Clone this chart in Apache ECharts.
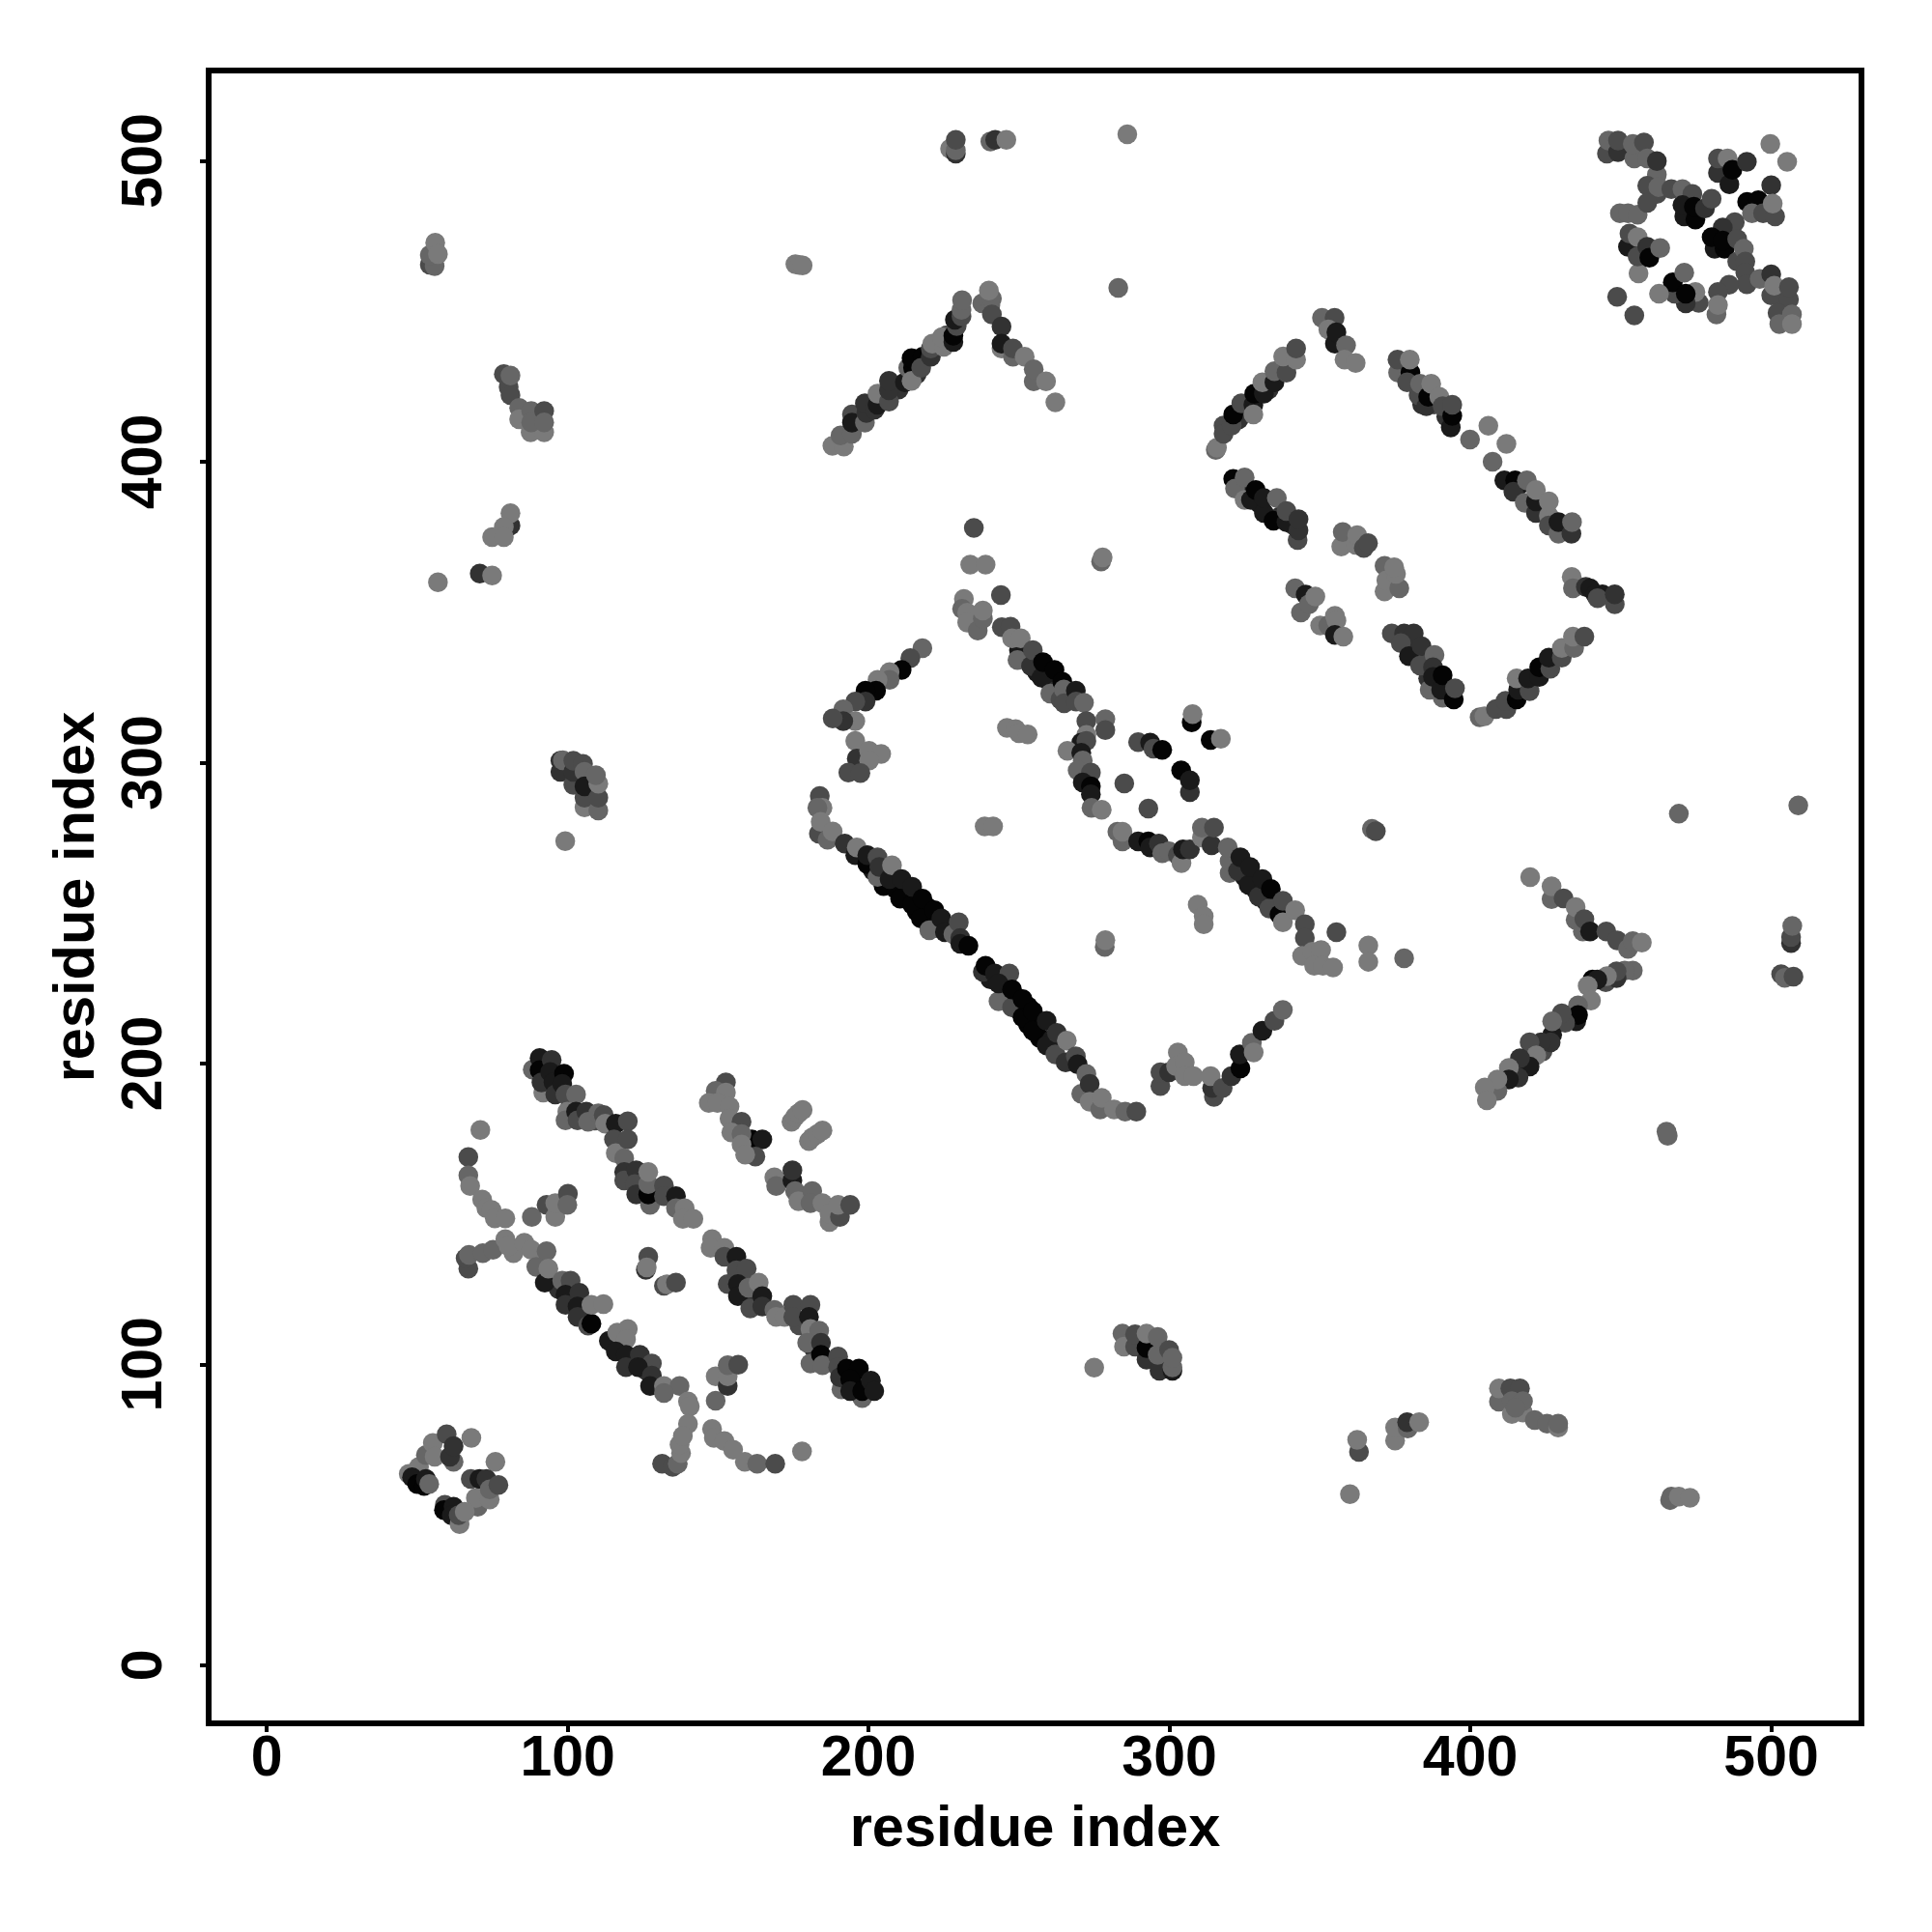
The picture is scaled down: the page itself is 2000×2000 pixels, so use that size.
<!DOCTYPE html>
<html>
<head>
<meta charset="utf-8">
<script src="https://cdn.jsdelivr.net/npm/echarts@6/dist/echarts.min.js"></script>
<style>html,body{margin:0;padding:0;background:#fff}#c{width:2000px;height:2000px}</style>
</head>
<body>
<div id="c"></div>
<script>
// [residue x, residue y, contact level 1 (weak) .. 6 (strong)]
const strandUpper = [[88.4,198,2],[90.7,201.8,5],[90.7,197.8,6],[91.9,190.3,1],[91.3,193.7,4],[94.7,201.2,4],[94.2,197.2,5],[95.3,193.7,5],[95.9,189.7,4],[98.8,196.6,6],[98.2,193.2,5],[99.3,189.7,3],[102.8,189.7,2],[99.9,184,1],[99.3,181.1,2],[102.8,184,5],[103.3,181.1,3],[106.2,184,4],[106.8,180.6,2],[110.2,183.4,2],[112,182.9,3],[112.5,180,1],[116,180,5],[120,180.8,3],[115.4,174.8,3],[116,170.2,1],[120,174.8,3],[118.8,168.5,2],[118.8,163.9,4],[118.8,161.1,3],[122.8,164.5,4],[122.3,159.9,3],[122.8,156.5,4],[127.4,153,2],[126.8,156.5,6],[126.8,159.9,2],[126.8,163.9,1],[132,159.4,3],[132,155.9,3],[136,155.9,5],[136,151.9,2],[138.9,151.9,1],[138.3,148.4,1],[141.8,148.4,1],[148,141.6,1],[147.5,138.7,1],[152.1,138.7,1],[152.1,135.8,3],[156.1,135.8,5],[156.1,131.3,3],[159.5,131.8,3],[153.2,126.7,3],[156.6,126.7,5],[156.6,122.7,5],[160.1,125.5,2],[163.5,127.2,1],[160.7,118.6,3],[164.7,122.7,5],[164.7,119.2,4],[168.7,118.1,2],[169.3,115.8,1],[172.1,115.8,1],[175,119.8,3],[175,115.8,3],[180.7,119.8,3],[180.2,115.8,5],[180.7,111.8,1],[183.6,111.2,2],[179.6,107.2,2],[184.2,107.2,4],[180.7,100.3,2],[184.2,103.2,6],[184.7,99.7,2],[189.9,102.6,3],[189.9,99.1,3],[191,91.7,2],[190.5,95.7,4],[192.8,98.6,6],[196.8,98.6,6],[197.9,88.8,2],[193.9,95.1,6],[193.9,91.1,5],[197.9,91.1,6],[200.8,94.6,5],[201.9,91.1,5]];
const strandShort = [[152.6,193.7,3],[149.2,190.9,2],[152.6,190.3,1],[146.9,186.9,1],[149.8,186.9,1],[153.8,185.7,1],[153.8,181.7,1],[157.8,180.6,3],[154.4,177.1,1],[161.2,174.8,6],[157.8,176.5,2],[164.7,174.8,5],[157.8,173.1,1],[162.4,169.1,3],[159,169.7,1],[174.4,180.6,1],[175.6,182.3,1],[176.7,183.4,1],[178.1,184.6,1],[180.2,174.2,1],[181.3,175.4,1],[183,176.5,1],[184.7,177.7,1],[168.7,162.2,1],[169.3,159.3,2],[174.7,161.1,5],[174.7,164.5,4],[175.6,157.6,2],[176.7,154.2,1],[181.3,157.6,2],[180.7,153.6,2],[184.7,153.6,1],[187,147.3,1],[187,150.2,1],[190.5,149,3],[189.9,153,1],[193.9,153,3]];
const arcLeft = [[71,177.9,1],[67,168.9,3],[67,162.8,2],[67.6,159.3,1],[71.6,154.8,1],[73,151.9,1],[74.7,151.3,1],[75.8,148.5,1],[79.3,148.5,1]];
const strandLower = [[67,131.8,3],[66.1,135.3,3],[67.2,136.4,2],[71.8,137,2],[75.2,138.1,2],[79.3,141.6,1],[80.4,139.3,1],[85.6,140.4,1],[87.9,138.1,1],[93,137.6,2],[89.6,132.4,2],[92.4,127.2,5],[93.6,131.8,1],[98.2,127.8,2],[101,127.8,3],[99.3,123.2,5],[103.9,123.8,4],[99.3,119.8,4],[103.3,119.2,5],[103.3,115.8,4],[106.8,112.9,3],[107.9,113.5,6],[107.9,119.8,1],[111.9,120,1],[113.7,107.8,5],[116.5,110.6,1],[120,111.8,1],[119.4,108.3,1],[116,104.3,5],[119.4,103.2,5],[124,103.2,4],[128,100.3,3],[119.4,99.1,4],[123.4,99.1,5],[128,96.3,4],[127.4,92.8,5],[132,92.8,1],[137.2,92.8,2],[132,90.5,2],[140,87.7,1],[140.6,86,1],[140,80.2,1],[131.4,67,3],[134.9,65.9,3],[136.6,67,2],[137.7,70.5,1],[137.2,73.3,1],[138.3,76.2,1]];
const arcCross = [[148,78.5,1],[148.6,75.6,1],[152.1,74.5,1],[155,71.6,1],[158.9,67.6,1],[163,67,2],[169,67,3],[177.9,71.1,1]];
const patchesMid = [[88.1,149,2],[93,153,3],[95.9,149,1],[95.9,153.6,1],[100.1,156.7,3],[99.9,153,2],[126.8,135.8,3],[126,131.4,4],[126.3,132.2,1],[132,126.1,3],[133,126.6,1],[136,127.2,3],[149.2,87.9,2],[149.2,96,1],[153.2,92.8,4],[153.2,96,1],[153.2,99.7,2],[156.7,99.9,3]];
const cornerBottomLeft = [[47.2,63.6,1],[50.6,65.9,1],[48.3,62.5,5],[50,60.2,6],[52.3,59.6,6],[52.9,61.9,5],[54,60.2,2],[52.9,69.9,2],[55.2,73.9,1],[55.8,69.3,1],[59.8,76.8,3],[62.1,67.6,2],[60.9,69.3,4],[62.1,72.8,4],[68,75.6,1],[76,67.6,1],[67.8,61.9,3],[70.7,61.9,5],[73,61.9,4],[70.1,52.7,2],[69.5,55.6,1],[74.1,55.1,1],[74.1,58.5,2],[77,59.9,3],[59.2,53.3,3],[58.9,51.6,6],[62.1,52.7,5],[61.5,49.8,5],[64.1,46.9,1],[63.8,49.9,3],[65.8,51,1]];
const rectTopLeft = [[217.9,338,2],[213.9,334.7,3],[211,330.8,6],[207,330.1,1],[207,327.5,2],[203,327.5,1],[202.5,323.9,6],[199,323.9,6],[199,320.3,4],[195.6,320.3,3],[191.6,317.7,2],[195.6,313.8,1],[191.6,313.8,4],[188.1,314.7,3],[195.6,307.2,1],[196.1,301.3,4],[200.2,303.9,1],[204.2,302.9,1],[200.2,300.7,1],[193.3,296.7,3],[197.3,296.5,3]];
const rectBottomA = [[183.8,288.9,3],[184.7,285,1],[183,285,2],[183.5,276.4,3],[184.1,280.3,1],[186.4,274.4,2],[188.1,277.1,1],[192.1,273.1,4],[195.6,269.2,5],[196.1,271.8,1],[199.6,266.3,6],[199.6,269.2,5],[203,262,2],[203,268.5,3],[203.6,265.3,4],[207,261.3,5],[207.8,265.9,1],[210.5,254.8,6],[211,261.3,5],[214.5,252.8,6],[214.5,258.7,5],[217.4,248.2,6],[217.9,254.8,6],[220.2,244.3,2],[221.9,250.9,6],[224.2,248.2,5],[225.4,243.6,5],[228.2,243,2],[230,246.9,3],[230.5,241.7,4],[230.5,239.8,5],[233.2,239.1,6]];
const rectBottomB = [[238,230.5,4],[238.9,232.5,6],[243.2,220.7,2],[242,229.9,5],[246.8,229.9,3],[243.2,226.6,5],[247.7,218.7,3],[247.7,224.6,6],[251.2,215.4,6],[251.2,221.4,6],[254.6,210.9,6],[254.6,217.4,6],[259.2,206,5],[259.2,214.2,5],[262.6,210.2,4],[262.1,203,3],[265.9,207.6,1],[265.5,200.4,4],[268.9,202.4,3],[269.5,199.7,5],[272.4,196.5,2],[270.7,189.9,2],[273.5,193.2,4],[273.5,187.3,1],[277,184.7,2],[277.5,188.6,1],[281.6,184.7,1],[285.3,184,2],[289,184,3]];
const rectBottomRight = [[297,192.5,3],[297,197.1,3],[299.9,197.1,4],[302.8,203.7,1],[302.2,199.1,1],[305.1,200.4,1],[305.1,195.8,1],[308,195.8,1],[314.8,188.9,3],[314.2,191.9,4],[313.7,195.8,1],[317.7,191.9,3],[320.6,195.8,4],[323.6,198.4,6],[323.4,203,5],[327.4,206.9,2],[328,203.7,1],[330.9,210.9,5],[334.9,214.2,3],[337.7,217.8,2]];
const rectTopStrand = [[231.7,354.4,1],[231.1,351.1,2],[232.8,349.8,1],[232.8,346.5,1],[236.3,343.9,2],[238,347.8,2],[238,350.5,1],[244,355.7,3],[233.8,365.8,1],[238.9,365.8,1],[235,378,3],[277.3,366.8,2],[277.8,368.2,1],[244.3,345,3],[247.2,345.2,3],[250,337.4,5],[247.7,341.3,1],[250.6,341.3,1],[249.5,334.1,2],[254,332.1,4],[254.6,337.4,3],[257.5,328.2,5],[258,333.4,6],[260.4,322.9,2],[261.8,330.8,6],[263.8,321,3],[264.4,326.9,6],[264.9,324.3,2],[265,319.7,3],[268.9,323.9,5],[269,320.3,3],[271.6,319.9,2],[272.4,313.8,3],[278.7,314.4,2],[278.7,310.8,3],[272.4,309.2,1],[270.7,306.6,5],[272.4,307.2,3],[266.1,303.9,1],[270.7,303.3,5],[271.2,300.7,2],[269.5,297.4,2],[273.9,296.7,3],[271.2,293.4,5],[273.9,292.1,6],[273.9,289.5,5],[274.1,285,2],[277.5,284.3,1]];
const patchesInner = [[246,311.5,1],[248.9,311.1,1],[250,309.8,1],[252.9,309.4,1],[307.4,313.4,6],[307.7,316.1,1],[313.7,307.5,6],[317.1,307.9,1],[289.6,306.8,3],[293.6,306.6,5],[294.7,304.6,3],[297.6,304.2,6],[303.9,297.4,6],[306.8,290.2,4],[306.8,294.1,5],[285,293.1,3],[293,284.7,3],[238.6,278.8,1],[241.4,278.8,1],[278.5,238.7,2],[278.7,241,1],[309.4,252.8,1],[311.4,248.9,1],[311.4,246.3,1],[282.7,277,2],[284.4,273.8,2],[284.4,277,1]];
const strandMiddle = [[289.6,273.8,5],[293,273.8,6],[293.6,271.8,5],[296.5,273.1,4],[297.6,269.9,2],[299.9,270.5,2],[302.8,269.2,3],[304,266.6,1],[304.5,271.2,5],[306.8,271.2,4],[310.8,275.1,1],[314,272.5,4],[310.8,278.4,2],[314.8,278.4,3],[320,263.3,2],[320,267.2,2],[319.4,271.8,2],[322.8,264,4],[323.6,268.5,5],[326.3,259.4,5],[326.8,265.3,5],[329.7,255.4,4],[330.9,261.3,5],[333.2,251.5,3],[333.7,258,6],[336.6,249.5,6],[337.7,246.9,1],[337.7,254.1,3],[341.8,250.9,1],[345,246.3,3],[345,241.7,3],[355.5,243.6,3],[344.1,235.8,1],[347.5,237.1,1],[350.4,237.7,1],[348.1,232.5,1],[351,232.5,1],[354.4,231.9,1]];
const rectUpperLeft = [[315.4,403.9,2],[315.8,404.6,1],[318,412,3],[318,409.3,3],[320.7,412,3],[321.2,415.7,6],[323.9,419.4,3],[327.9,418.9,5],[327.9,415.7,1],[328.2,422.6,6],[331.4,422.6,5],[330.9,426.4,1],[334.9,426.4,5],[334.9,430.1,2],[338.9,429.6,3],[337.8,435,1],[342.1,433.9,1],[342.1,437.6,3],[350.7,447.8,2],[354.9,447.8,3],[352.8,444,1],[355,439.2,5],[355.5,443,5],[358.7,438.7,2],[358.2,433.9,1],[361.9,432.8,1]];
const rectUpperRight = [[376,429.6,2],[375.8,433.9,3],[380.1,429.6,6],[379.9,433.9,1],[379,426.4,3],[382.8,422.1,3],[383.3,425.9,2],[385.4,418.4,4],[386,421.6,6],[387,425.9,1],[389.7,421.6,1],[390.8,418.4,3],[393.5,411.4,5],[394,415.2,6],[394,418.9,3],[399.9,407.4,2],[406,411.9,1],[412,405.9,1],[407.4,400,2],[411.3,393.8,5],[414.9,393.8,6],[414.3,390,4],[418.8,393.8,2],[418.1,386.3,2],[421.8,383,4],[421.8,386.8,5],[421.8,390.6,1],[426.1,382,1],[426.1,378.8,3],[426.1,386.8,1],[429.3,376.1,2],[429.3,379.9,5],[433.6,376.1,4],[433.8,379.9,2]];
const rectLowerLeft = [[321.2,394.3,6],[321.8,391.1,2],[325,387.3,1],[325,394.8,2],[327.1,387.3,5],[328.7,390.6,6],[331.4,383,5],[331.4,387.9,5],[334.6,380.4,6],[335.7,387.9,2],[342.6,374,3],[338.9,379.9,5],[338.9,383.6,3],[342.9,377.2,4],[342.9,380.9,4]];
const patchesCentre = [[357.1,371.8,1],[357.6,376.6,2],[361.9,372.4,1],[362.4,375.6,1],[364.6,371.3,3],[366,372.9,3],[371.5,365.4,2],[371.5,356.9,1],[372.1,360.6,1],[376.4,357.9,2],[375.3,362.7,1],[374.7,364.9,1],[341.8,357.9,2],[345.3,355.8,5],[343.7,349.9,2],[346.4,352.6,2],[348.5,355.2,1],[350.1,345.6,1],[352.8,345.6,2],[355,348.8,1],[355.5,347.2,1],[355,342.4,5],[357.8,341.9,1]];
const rectLowerRight = [[373.9,342.9,3],[378,342.9,4],[381.2,342.9,4],[376.9,339.7,3],[379.6,335.4,5],[383.8,338.7,4],[383.3,332.2,3],[388.1,335.8,2],[387.6,331.7,4],[386.5,324.2,2],[387.6,328.5,5],[390.8,321.6,2],[390.3,324.2,5],[390.8,329,6],[394.5,321,6],[394.9,324.7,3],[403.1,315.1,2],[404.7,315.4,1],[408.5,317.8,3],[412,317.8,3],[411.7,320.5,3],[415.4,321,6],[415.9,324.2,5],[415.4,328,1],[419.7,323.7,3],[419.2,328,5],[422.9,328.5,5],[422.9,331.7,6],[426.6,331.2,3],[426.1,334.9,5],[430.4,334.9,3],[430.4,338.1,1],[434.5,338.1,2],[434.1,341.9,1],[437.9,341.9,3]];
const rectRightEnd = [[433.7,361.7,1],[434.1,357.9,2],[438.4,358.4,4],[439.8,357.9,5],[441.6,355.8,5],[443.9,355.9,5],[442.3,354.6,3],[448,352.6,3],[448,355.9,4]];
const crossTopRight = [[445.4,502.4,3],[445.9,506.7,2],[449.1,502.9,4],[449.1,506.7,3],[454.5,500.8,2],[454,505.6,2],[457.7,506.1,3],[458.8,500.8,2],[462,495.4,2],[462,499.9,4],[458.8,491.7,3],[462.5,491.2,2],[466.8,490.6,3],[470.5,490.6,2],[473.8,489,3],[471.1,481.5,5],[470.5,485.3,5],[474.8,480.5,6],[474.3,484.7,6],[478,484.2,4],[480.2,487.4,3],[482.3,496,4],[482.3,500.8,3],[485.5,500.8,1],[486.1,492.2,5],[487.1,497,6],[491.9,499.7,4],[499.7,505.6,1],[505.3,499.7,1],[500,491.9,4],[492,486.3,6],[495.7,486.9,6],[493.6,482.6,2],[497.3,482.6,3],[501.3,481.5,3],[500.5,485.8,1],[487.9,479.6,3],[483.9,477.8,4],[481.2,470.8,5],[480.2,474.6,6],[484.5,470.8,6],[483.9,473.5,6],[488.7,474,3],[488.7,466.5,3],[490.9,470.8,2],[491.4,466.5,3],[491.4,462.8,3],[491.9,459,3],[486,458.8,3],[496.2,460.7,2],[500,462.3,4],[500,455.3,3],[501,458.5,1],[505.9,453.9,3],[505.9,458,3],[502.1,449.4,3],[502.7,445.7,2],[506.9,448.9,2],[506.9,445.7,1],[481.8,448.9,2],[482.3,456.4,3],[482.3,452.1,1],[475.9,452.8,3],[474.8,456.4,1],[471.6,452.6,4],[467.9,455.8,3],[467.3,459.6,6],[471.6,455.8,6],[471.1,462.8,2],[462.7,455.8,1],[448.8,454.8,3],[454.5,448.6,3],[455.9,462.6,1],[452.4,471.4,5],[452.9,475.8,3],[455.6,474.6,1],[455.6,468.2,3],[458.8,471.4,4],[459.5,467.8,6],[463.1,471,2],[449.7,482.6,2],[452.4,482.6,2],[455.6,482.1,2],[458.8,486,3]];
const armTopLeft = [[188,405.3,1],[191.8,405,1],[190.7,408.7,2],[194.5,409.3,2],[194.5,415.7,3],[194.5,413,5],[198.8,413,2],[199.3,416.2,4],[198.8,419.4,4],[202,417.3,4],[203,418.9,5],[203,422.6,1],[206.8,420,3],[206.8,423.7,4],[206.8,426.9,4],[212.1,426.4,5],[213.2,431.2,2],[214.8,431.2,6],[214.3,434.4,6],[214.3,426.9,1],[218,434.9,6],[217.5,431.2,3],[220.7,434.9,4],[220.7,437.6,3],[221.2,439.2,1],[225,438.2,1],[224.4,441.4,1],[228.2,439.8,5],[228.2,441.9,6],[229.3,445.1,3],[228.7,447.2,5],[230.9,448.3,3],[230.9,450.5,2],[231.1,453.7,2]];
const armTopRight = [[237.8,452.6,2],[240.5,452.1,2],[241,454.2,2],[240,456.9,1],[241,448.9,3],[244.2,444.9,4],[244.2,437.6,1],[244.2,439.2,5],[248,434.9,2],[248,437.6,3],[251.9,434.9,1],[254.9,426.7,2],[254.9,430.7,2],[259,426.7,1],[262.1,419.7,1]];
const armRightUpper = [[419.9,261.9,1],[427,254.6,2],[427,258.9,1],[431,254.9,3],[435,247.7,2],[435,252,1],[437.4,243.9,2],[437.9,248,3],[439.8,243.9,5],[445.2,243.9,3],[448.8,240.9,3],[452.4,238.1,2],[454,240.7,2],[457,240.2,1]];
const armRightLower = [[454,230.9,2],[451.3,230.9,2],[448.6,228.4,4],[448.6,230.6,3],[445.4,229,1],[440.6,227.9,6],[442.2,227.9,5],[439,225.8,1],[440.1,220.9,1],[435.8,219.3,2],[435.2,214,5],[435.8,216.1,6],[431.5,213.5,3],[430.4,216.7,3],[427.2,209.5,5],[427.2,214,2],[426.7,207,4],[423.5,207,4],[419.7,207,3],[421.9,202.7,1],[419.7,199,5],[416.5,201.7,4],[416,195.3,4],[412.8,198.5,1],[412.8,194.7,5],[409,190.9,2],[409,194.7,1],[404.8,192,1],[405.5,187.8,1]];
const isolatedLeft = [[54.2,465.5,3],[55.8,465,2],[54.2,468.7,2],[56,472.8,1],[56.9,469,1],[78.8,429.1,3],[80.4,424.8,3],[81,422.1,3],[81,428.6,2],[83.9,417.9,2],[83.9,414.1,1],[87.7,409.8,1],[92.2,409.8,1],[87.9,416.8,2],[87.9,413.1,2],[92.2,416.8,3],[92.2,413.1,2],[81,378.8,4],[81,382.9,1],[78.8,378.3,1],[74.9,374.9,1],[78.8,374.9,1],[70.8,362.8,4],[74.9,362.2,1],[56.9,359.9,1],[175.7,465.6,1],[177,465.4,1],[178.1,465.2,1]];
const isolatedTop = [[227.1,504,1],[229,502.4,4],[229,503.5,2],[229,507,3],[240.5,506.4,2],[242.1,507,4],[245.8,507,1],[286,508.8,1],[283,457.8,2]];
const blockCentreA = [[97.6,296.9,4],[97.6,300.6,4],[98.4,300.8,2],[101.9,292.6,3],[101.9,296.9,4],[101.9,300.6,3],[105.1,299.6,3],[105.6,296.9,2],[105.6,285.1,1],[105.6,288.3,3],[105.6,292.1,5],[110.2,284.1,2],[110.2,288.3,3],[110.2,293,1],[109.4,295.8,2],[99.2,273.9,1]];
const blockCentreB = [[275,98.9,1],[284.4,110.2,2],[284.9,105.9,1],[288.6,105.9,3],[288.6,110,3],[292.4,101.6,4],[292.4,105.4,6],[292.4,110.2,1],[296.7,97.9,4],[296.1,103.2,2],[296.1,109.1,2],[299.9,104.8,3],[301,97.9,5],[301,99,2],[301,102.2,2]];
const lowerRightScatter = [[363,70.9,3],[362.4,74.9,1],[360,56.9,1],[375,74.7,1],[375,79,1],[379.2,78.7,2],[379,80.8,4],[383,80.8,1],[409.5,87.6,2],[409.5,92,1],[413.3,92,3],[416.5,92,3],[413.8,83.5,1],[417.5,84,1],[413.8,87.8,2],[417.5,87.8,2],[415,85.6,2],[421.4,81.5,2],[425.5,80.3,2],[429.2,79,1],[429.2,80.3,2],[466.4,54.9,2],[466.8,56.1,2],[469.3,56.1,1],[473,55.7,1]];
const rightScatter = [[367.3,278,2],[368.6,277.2,3],[366.1,239.2,1],[366.1,233.8,1],[378,235,2],[509,285.8,2],[469.3,283,2],[465.2,177.3,2],[465.6,176,2],[503.3,229.7,3],[504.5,228.5,2],[507.4,228.9,3],[506.6,240,4],[506.6,242,3],[507,245.7,2]];
// overlapped marks hidden inside the dense strands, estimated from the strand widths
const denseLower = [[97,125,4],[101,121,5],[105,117,5],[117,106,5],[121,101,5],[126,98,4],[82,137,1],[91,134,1]];
const denseUpper = [[93,199,5],[97,191,4],[101,186,4],[109,181,3],[124,161,3],[129,158,3],[158,129,3],[162,121,4],[177,113,3],[182,105,4],[195,97,6],[199,92,6]];
const denseRectA = [[201.5,264,5],[205,264,4],[205,259,6],[209,258,6],[212.5,256,6],[216,255,6],[216,250.5,6],[219.5,252,6],[219.5,247,5],[223,245,4],[227,245,5]];
const denseRectB = [[240.5,228,5],[245.5,222,6],[249.5,218,6],[253,213,6],[253,219,6],[256.9,214,6],[256.9,208.5,6],[261,208,5]];
const denseRectTop = [[252,335,4],[256,330,5],[260,327,5],[262.5,324,4],[267,322,3]];
const denseMiddle = [[325,262,5],[328.5,258,5],[332,254,5],[335,252,4]];
const denseUpperRect = [[384,419,4],[388,419,3],[392,415,4],[416,392,5],[424,384,3],[431,378,4],[380,339,4],[385,335,3],[386,328,4],[392,325,5],[324,391,5],[330,386,5],[337,382,4],[341,379,4],[323,414,4],[326,417,4],[333,424,4]];
const denseArms = [[210,424,4],[216,429,4],[226,442,3],[433,216,3],[424,204,3],[417,199,4],[445,227,3]];
const denseCross = [[472,483,5],[485,496,5],[483,473,6],[456,470,4],[462,489,3],[497,484,4],[503,455,3]];

const groups = [denseLower, denseUpper, denseRectA, denseRectB, denseRectTop, denseMiddle, denseUpperRect, denseArms, denseCross, cornerBottomLeft, arcLeft, strandLower, arcCross, patchesMid, strandUpper, strandShort, rectTopLeft, rectBottomA, rectBottomB, rectBottomRight, rectTopStrand, patchesInner, strandMiddle, rectUpperLeft, rectUpperRight, rectLowerLeft, patchesCentre, rectLowerRight, rectRightEnd, crossTopRight, armTopLeft, armTopRight, armRightUpper, armRightLower, isolatedLeft, isolatedTop, blockCentreA, blockCentreB, lowerRightScatter, rightScatter];

const tickValues = [0, 100, 200, 300, 400, 500];
const axisTitle = 'residue index';
const levelGray = ['#7a7a7a', '#666666', '#4b4b4b', '#323232', '#1a1a1a', '#040404'];

const font = 'Liberation Sans';
function makeAxis(extra) {
  return Object.assign({
    type: 'value', min: -19.3, max: 530, name: axisTitle, nameLocation: 'middle',
    nameTextStyle: {fontFamily: font, fontWeight: 'bold', fontSize: 59.5, color: '#000'},
    splitLine: {show: false},
    axisLine: {show: false, onZero: false},
    axisTick: {show: true, customValues: tickValues, length: 9, lineStyle: {color: '#000', width: 4}}
  }, extra);
}
const chart = echarts.init(document.getElementById('c'), null, {renderer: 'canvas', width: 2000, height: 2000});
chart.setOption({
  backgroundColor: '#fff',
  animation: false,
  grid: {left: 216, top: 73, width: 1711, height: 1711, show: true, borderColor: '#000', borderWidth: 6, backgroundColor: 'transparent'},
  xAxis: makeAxis({nameGap: 81, axisLabel: {customValues: tickValues, fontFamily: font, fontWeight: 'bold', fontSize: 59, color: '#000', margin: 8}}),
  yAxis: makeAxis({nameGap: 105, nameRotate: 90, axisLabel: {customValues: tickValues, rotate: 90, fontFamily: font, fontWeight: 'bold', fontSize: 59, color: '#000', margin: 36}}),
  series: groups.map(g => ({
    type: 'scatter', data: g, symbol: 'circle', symbolSize: 20.5, silent: true,
    itemStyle: {opacity: 1, color: p => levelGray[p.value[2] - 1]}
  }))
});
</script>
</body>
</html>
